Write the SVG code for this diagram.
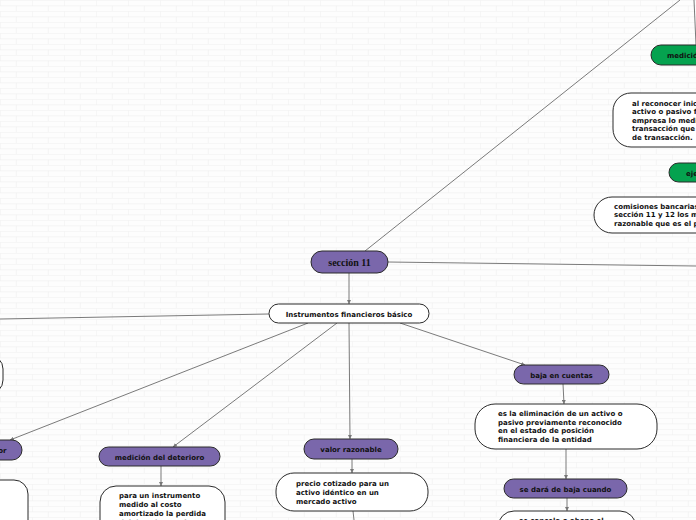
<svg xmlns="http://www.w3.org/2000/svg" width="696" height="520" viewBox="0 0 696 520">
<defs>
<pattern id="bricks" width="32" height="11" patternUnits="userSpaceOnUse">
<rect width="32" height="11" fill="#fdfdfd"/>
<path d="M0 0.3H32M0 5.8H32M0.3 0.3V5.8M16.3 5.8V11" stroke="#eeeeee" stroke-width="0.6" fill="none"/>
</pattern>
<marker id="arr" viewBox="0 0 6 6" refX="6" refY="3" markerWidth="4" markerHeight="4" orient="auto">
<path d="M0 0L6 3L0 6Z" fill="#777"/>
</marker>
<style>
.c{stroke:#7a7a7a;stroke-width:1;fill:none}
.a{marker-end:url(#arr)}
.p{fill:#7a67ab;stroke:#2a2a2a;stroke-width:1}
.g{fill:#05a24f;stroke:#2a2a2a;stroke-width:1}
.w{fill:#ffffff;stroke:#2a2a2a;stroke-width:1}
.t{font-family:"DejaVu Sans",Verdana,sans-serif;font-weight:bold;font-size:7px;fill:#111}
.m{text-anchor:middle}
.s{font-family:"Liberation Serif","Times New Roman",serif;font-weight:bold;font-size:10px;fill:#111;text-anchor:middle}
</style>
</defs>
<rect width="696" height="520" fill="url(#bricks)"/>
<g id="connectors">
<line class="c" x1="365" y1="251" x2="680" y2="0"/>
<line class="c" x1="694" y1="0" x2="696" y2="45"/>
<line class="c" x1="388" y1="262" x2="696" y2="266"/>
<line class="c a" x1="349" y1="273" x2="349" y2="304"/>
<line class="c" x1="269" y1="314" x2="0" y2="319"/>
<line class="c a" x1="308" y1="323" x2="10" y2="440"/>
<line class="c a" x1="337" y1="323" x2="173" y2="447"/>
<line class="c a" x1="349" y1="323" x2="350" y2="439"/>
<line class="c a" x1="400" y1="323" x2="525" y2="365"/>
<line class="c a" x1="161" y1="466" x2="161" y2="486"/>
<line class="c a" x1="352" y1="459" x2="352" y2="473"/>
<line class="c" x1="353" y1="511" x2="354" y2="520"/>
<line class="c a" x1="563" y1="384" x2="564" y2="404"/>
<line class="c a" x1="566" y1="449" x2="566" y2="479"/>
<line class="c a" x1="567" y1="498" x2="567" y2="511"/>
</g>
<g id="seccion11"><rect class="p" x="311" y="251" width="77" height="22" rx="11"/><text class="s" x="349.5" y="265.5">sección 11</text></g>
<g id="instrumentos"><rect class="w" x="269" y="304" width="160" height="19" rx="9.5"/><text class="t m" x="349" y="316.5">Instrumentos financieros básico</text></g>
<g id="left-top"><rect class="w" x="-100" y="355" width="103" height="39" rx="14"/></g>
<g id="left-purple"><rect class="p" x="-70" y="440" width="92" height="20" rx="10"/><text class="t" x="6.5" y="452.5" text-anchor="end">medición posterior</text></g>
<g id="left-white"><rect class="w" x="-100" y="480" width="128" height="60" rx="14"/></g>
<g id="deterioro"><rect class="p" x="99" y="447" width="121" height="19" rx="9.5"/><text class="t m" x="159.5" y="459.5">medición del deterioro</text></g>
<g id="deterioro-text"><rect class="w" x="100" y="486" width="125" height="60" rx="16"/>
<text class="t" x="119" y="498">para un instrumento</text>
<text class="t" x="119" y="507">medido al costo</text>
<text class="t" x="119" y="516">amortizado la perdida</text>
<text class="t" x="119" y="525">del deterioro es la</text></g>
<g id="valor"><rect class="p" x="304" y="439" width="94" height="20" rx="10"/><text class="t m" x="351" y="452">valor razonable</text></g>
<g id="valor-text"><rect class="w" x="276" y="473" width="152" height="38" rx="18"/>
<text class="t" x="296" y="485.5">precio cotizado para un</text>
<text class="t" x="296" y="494.5">activo idéntico en un</text>
<text class="t" x="296" y="503.5">mercado activo</text></g>
<g id="baja"><rect class="p" x="514" y="365" width="95" height="19" rx="9.5"/><text class="t m" x="561.5" y="377.5">baja en cuentas</text></g>
<g id="baja-text"><rect class="w" x="475" y="404" width="182" height="45" rx="20"/>
<text class="t" x="498" y="415.5">es la eliminación de un activo o</text>
<text class="t" x="498" y="424.5">pasivo previamente reconocido</text>
<text class="t" x="498" y="433.3">en el estado de posición</text>
<text class="t" x="498" y="442">financiera de la entidad</text></g>
<g id="sedara"><rect class="p" x="504" y="479" width="123" height="19" rx="9.5"/><text class="t m" x="565.5" y="491.5">se dará de baja cuando</text></g>
<g id="sedara-text"><rect class="w" x="498" y="511" width="138" height="40" rx="16"/>
<text class="t" x="519" y="523">se cancela o abona el</text></g>
<g id="medicion-inicial"><rect class="g" x="651" y="45" width="110" height="20" rx="10"/><text class="t" x="667" y="58">medición inicial</text></g>
<g id="medicion-text"><rect class="w" x="613" y="93" width="200" height="54" rx="18"/>
<text class="t" x="632" y="105.5">al reconocer inicialmente un</text>
<text class="t" x="632" y="114">activo o pasivo financiero la</text>
<text class="t" x="632" y="122.5">empresa lo medirá al precio de la</text>
<text class="t" x="632" y="131">transacción que incluye los costos</text>
<text class="t" x="632" y="139.5">de transacción.</text></g>
<g id="ejemplo"><rect class="g" x="669" y="163" width="60" height="19" rx="9.5"/><text class="t" x="686" y="175.5">ejemplo</text></g>
<g id="ejemplo-text"><rect class="w" x="594" y="197" width="200" height="36" rx="18"/>
<text class="t" x="614" y="208.5">comisiones bancarias</text>
<text class="t" x="614" y="217">sección 11 y 12 los mide al valor</text>
<text class="t" x="614" y="225.5">razonable que es el precio</text></g>
</svg>
